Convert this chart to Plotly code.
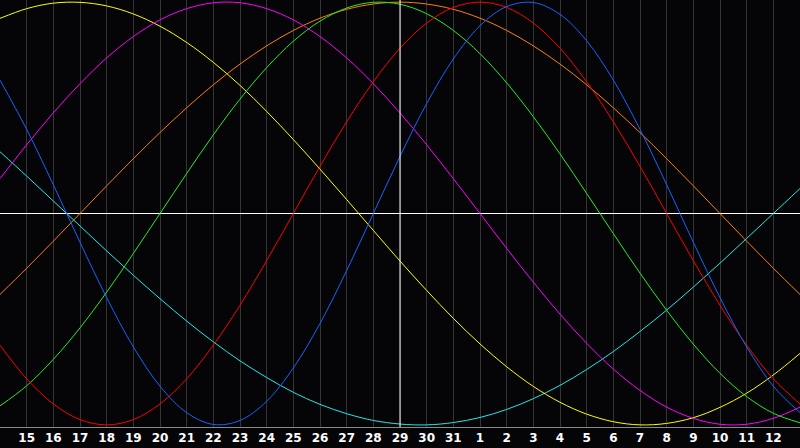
import plotly.graph_objects as go

# day indices: -1 .. 29 (index 0 = the 15th)
day_index = list(range(-1, 30))
tick_index = list(range(0, 29))
tick_labels = ["15", "16", "17", "18", "19", "20", "21", "22", "23", "24", "25", "26",
               "27", "28", "29", "30", "31", "1", "2", "3", "4", "5", "6", "7", "8",
               "9", "10", "11", "12"]

physical = [0.631, 0.398, 0.136, -0.136, -0.398, -0.631, -0.817, -0.942, -0.998, -0.979,
            -0.888, -0.731, -0.520, -0.270, 0.0, 0.270, 0.520, 0.731, 0.888, 0.979,
            0.998, 0.942, 0.817, 0.631, 0.398, 0.136, -0.136, -0.398, -0.631, -0.817, -0.942]
emotional = [-0.623, -0.782, -0.901, -0.975, -1.0, -0.975, -0.901, -0.782, -0.623, -0.434,
             -0.223, 0.0, 0.223, 0.434, 0.623, 0.782, 0.901, 0.975, 1.0, 0.975,
             0.901, 0.782, 0.623, 0.434, 0.223, 0.0, -0.223, -0.434, -0.623, -0.782, -0.901]
intellectual = [-0.910, -0.815, -0.690, -0.541, -0.372, -0.189, 0.0, 0.189, 0.372, 0.541,
                0.690, 0.815, 0.910, 0.972, 0.999, 0.990, 0.945, 0.866, 0.756, 0.618,
                0.458, 0.282, 0.095, -0.095, -0.282, -0.458, -0.618, -0.756, -0.866, -0.945, -0.990]
awareness = [-0.383, -0.259, -0.131, 0.0, 0.131, 0.259, 0.383, 0.5, 0.609, 0.707,
             0.793, 0.866, 0.924, 0.966, 0.991, 1.0, 0.991, 0.966, 0.924, 0.866,
             0.793, 0.707, 0.609, 0.5, 0.383, 0.259, 0.131, 0.0, -0.131, -0.259, -0.383]
spiritual = [0.292, 0.177, 0.059, -0.059, -0.177, -0.292, -0.403, -0.509, -0.607, -0.697,
             -0.776, -0.846, -0.903, -0.947, -0.979, -0.996, -1.0, -0.989, -0.965, -0.927,
             -0.876, -0.813, -0.738, -0.653, -0.558, -0.457, -0.348, -0.235, -0.118, 0.0, 0.118]
aesthetic = [0.923, 0.969, 0.995, 0.999, 0.982, 0.944, 0.886, 0.809, 0.715, 0.606,
             0.483, 0.350, 0.210, 0.066, -0.080, -0.225, -0.364, -0.496, -0.617, -0.725,
             -0.818, -0.893, -0.949, -0.985, -1.0, -0.993, -0.966, -0.917, -0.850, -0.764, -0.662]
intuitive = [0.165, 0.325, 0.476, 0.614, 0.736, 0.837, 0.916, 0.969, 0.997, 0.997,
             0.969, 0.916, 0.837, 0.736, 0.614, 0.476, 0.325, 0.165, 0.0, -0.165,
             -0.325, -0.476, -0.614, -0.736, -0.837, -0.916, -0.969, -0.997, -0.997, -0.969, -0.916]

series = [
    ("Awareness", awareness, "#ff8000"),
    ("Spiritual", spiritual, "#22e8e8"),
    ("Aesthetic", aesthetic, "#ffff00"),
    ("Intuitive", intuitive, "#ff00ff"),
    ("Intellectual", intellectual, "#22ee22"),
    ("Emotional", emotional, "#ff0000"),
    ("Physical", physical, "#1464ff"),
]

today_index = 14
bg = "#050508"

fig = go.Figure()
for name, vals, color in series:
    fig.add_trace(go.Scatter(
        x=day_index, y=vals, mode="lines", name=name,
        line=dict(color=color, width=1, shape="spline", smoothing=1.0),
        hoverinfo="skip",
    ))

fig.add_shape(type="line", xref="x", yref="paper", x0=today_index, x1=today_index,
              y0=0, y1=1, line=dict(color="#ffffff", width=1), layer="above")

fig.update_layout(
    width=800, height=448,
    margin=dict(l=0, r=0, t=0, b=21),
    paper_bgcolor=bg, plot_bgcolor=bg,
    showlegend=False,
    xaxis=dict(
        range=[-1, 29], tickmode="array", tickvals=tick_index, ticktext=tick_labels,
        showgrid=True, gridcolor="#353535", gridwidth=1, zeroline=False,
        showline=True, linecolor="#8a8a8a", linewidth=1, mirror=True,
        ticks="", tickfont=dict(family="DejaVu Sans", size=12, color="#ffffff", weight="bold"),
        fixedrange=True,
    ),
    yaxis=dict(
        range=[-1.01, 1.01], showgrid=False, showticklabels=False,
        zeroline=True, zerolinecolor="#ffffff", zerolinewidth=1,
        showline=True, linecolor="#8a8a8a", linewidth=1, mirror=False,
        fixedrange=True,
    ),
)

fig.write_html(
    "out.html",
    config={"displayModeBar": False},
    post_script="document.body.style.margin='0';document.body.style.padding='0';"
                "document.body.style.background='" + bg + "';"
                "document.body.style.overflow='hidden';",
)
